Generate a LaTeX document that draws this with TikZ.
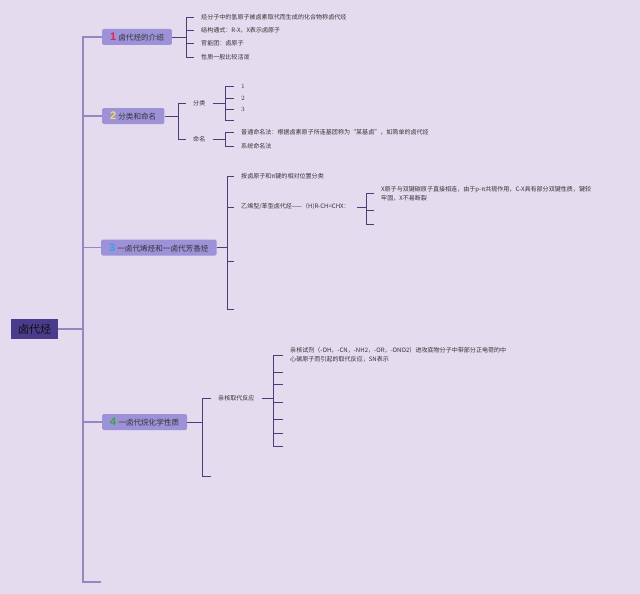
\documentclass[tikz,border=0pt]{standalone}
\usepackage{fontspec}
\newfontfamily\cjk{Noto Sans CJK SC}
\newfontfamily\numf{Liberation Sans}
\usetikzlibrary{calc}
\definecolor{bg}{HTML}{E5DBEF}
\definecolor{nodefill}{HTML}{9D92D8}
\definecolor{rootfill}{HTML}{4B3B8C}
\definecolor{mainc}{HTML}{9488C2}
\definecolor{subc}{HTML}{4B3D7A}
\definecolor{txt}{HTML}{333333}
\definecolor{roottxt}{HTML}{111111}
\definecolor{cone}{HTML}{E0245E}
\definecolor{ctwo}{HTML}{F2E05A}
\definecolor{cthree}{HTML}{3AA0E8}
\definecolor{cfour}{HTML}{34A83A}
\tikzset{
  leaf/.style={anchor=west, inner xsep=7pt, inner ysep=1pt, text=txt, align=left,
    font=\cjk\fontsize{6.05}{9}\selectfont},
  serifleaf/.style={leaf, font=\fontsize{6.5}{9}\selectfont},
  branch/.style={anchor=west, fill=nodefill, rounded corners=1.5pt, inner xsep=8pt,
    inner ysep=0pt, minimum height=16pt, text=txt, font=\cjk\fontsize{7.6}{9}\selectfont},
  rootnode/.style={fill=rootfill, minimum width=47pt, minimum height=20pt,
    text=roottxt, font=\cjk\fontsize{11}{12}\selectfont},
  mainline/.style={draw=mainc, line width=1.1pt},
  subline/.style={draw=subc, line width=0.8pt},
}
\newcommand{\bnum}[2]{{\numf\bfseries\fontsize{11}{11}\selectfont\color{#1}#2}\hspace{2pt}}
\begin{document}
\begin{tikzpicture}[x=1pt,y=-1pt]
\fill[bg] (0,0) rectangle (640,594);
\useasboundingbox (0,0) rectangle (640,594);

% root and branches
\node[rootnode] (root) at (34.5,329) {\color{roottxt}卤代烃};
\node[branch] (b1) at (102,37) {\bnum{cone}{1}卤代烃的介绍};
\node[branch] (b2) at (102,116) {\bnum{ctwo}{2}分类和命名};
\node[branch] (b3) at (101,247.5) {\bnum{cthree}{3}一卤代烯烃和一卤代芳香烃};
\node[branch] (b4) at (102,422) {\bnum{cfour}{4}一卤代烷化学性质};
\coordinate (m) at (83,329);
\coordinate (mend) at (101,582);
\draw[mainline] (root.east) -- (m);
\draw[mainline] (m) |- (b1.west);
\draw[mainline] (m) |- (b2.west);
\draw[mainline] (m) |- (b3.west);
\draw[mainline] (m) |- (b4.west);
\draw[mainline] (m) |- (mend);

% branch 1
\node[leaf] (c11) at (194,17) {烃分子中的氢原子被卤素取代而生成的化合物称卤代烃};
\node[leaf] (c12) at (194,30.5) {结构通式：R-X，X表示卤原子};
\node[leaf] (c13) at (194,43.5) {官能团：卤原子};
\node[leaf] (c14) at (194,57) {性质一般比较活泼};
\coordinate (k1) at (186,37);
\draw[subline] (b1.east) -- (k1);
\foreach \c in {c11,c12,c13,c14} \draw[subline] (k1) |- (\c.west);

% branch 2
\node[leaf] (c21) at (186,103) {分类};
\node[leaf] (c22) at (186,139) {命名};
\coordinate (k2) at (178,116);
\draw[subline] (b2.east) -- (k2);
\draw[subline] (k2) |- (c21.west);
\draw[subline] (k2) |- (c22.west);
\node[serifleaf] (c211) at (234,86) {1};
\node[serifleaf] (c212) at (234,98) {2};
\node[serifleaf] (c213) at (234,109) {3};
\coordinate (c214) at (234,120);
\coordinate (k21) at (225,103);
\draw[subline] (c21.east) -- (k21);
\foreach \c in {c211,c212,c213,c214} \draw[subline] (k21) |- (\c.west);
\node[leaf] (c221) at (234,132) {普通命名法：根据卤素原子所连基团称为“某基卤”，如简单的卤代烃};
\node[leaf] (c222) at (234,146) {系统命名法};
\coordinate (k22) at (225,139);
\draw[subline] (c22.east) -- (k22);
\draw[subline] (k22) |- (c221.west);
\draw[subline] (k22) |- (c222.west);

% branch 3
\node[leaf] (c31) at (234,176.5) {按卤原子和π键的相对位置分类};
\node[leaf] (c32) at (234,207) {乙烯型/苯型卤代烃——（H)R-CH=CHX：};
\coordinate (c33) at (234,261);
\coordinate (c34) at (234,309);
\coordinate (k3) at (227,247.5);
\draw[subline] (b3.east) -- (k3);
\foreach \c in {c31,c32} \draw[subline] (k3) |- (\c.west);
\draw[subline] (k3) |- (c33);
\draw[subline] (k3) |- (c34);
\node[leaf] (c321) at (374,193.5) {X原子与双键碳原子直接相连，由于p-π共轭作用，C-X具有部分双键性质，键较\\牢固，X不易断裂};
\coordinate (c322) at (374,210);
\coordinate (c323) at (374,224);
\coordinate (k32) at (366,207);
\draw[subline] (c32.east) -- (k32);
\draw[subline] (k32) |- (c321.west);
\draw[subline] (k32) |- (c322);
\draw[subline] (k32) |- (c323);

% branch 4
\node[leaf] (c41) at (211,398) {亲核取代反应};
\coordinate (c42) at (211,476);
\coordinate (k4) at (202,422);
\draw[subline] (b4.east) -- (k4);
\draw[subline] (k4) |- (c41.west);
\draw[subline] (k4) |- (c42);
\node[leaf] (c411) at (283,355) {亲核试剂（-OH，-CN，-NH2，-OR，-ONO2）进攻底物分子中带部分正电荷的中\\心碳原子而引起的取代反应，SN表示};
\coordinate (c412) at (283,372);
\coordinate (c413) at (283,384);
\coordinate (c414) at (283,402);
\coordinate (c415) at (283,419);
\coordinate (c416) at (283,433);
\coordinate (c417) at (283,446);
\coordinate (k41) at (273,398);
\draw[subline] (c41.east) -- (k41);
\draw[subline] (k41) |- (c411.west);
\foreach \c in {c412,c413,c414,c415,c416,c417} \draw[subline] (k41) |- (\c);
\end{tikzpicture}
\end{document}
